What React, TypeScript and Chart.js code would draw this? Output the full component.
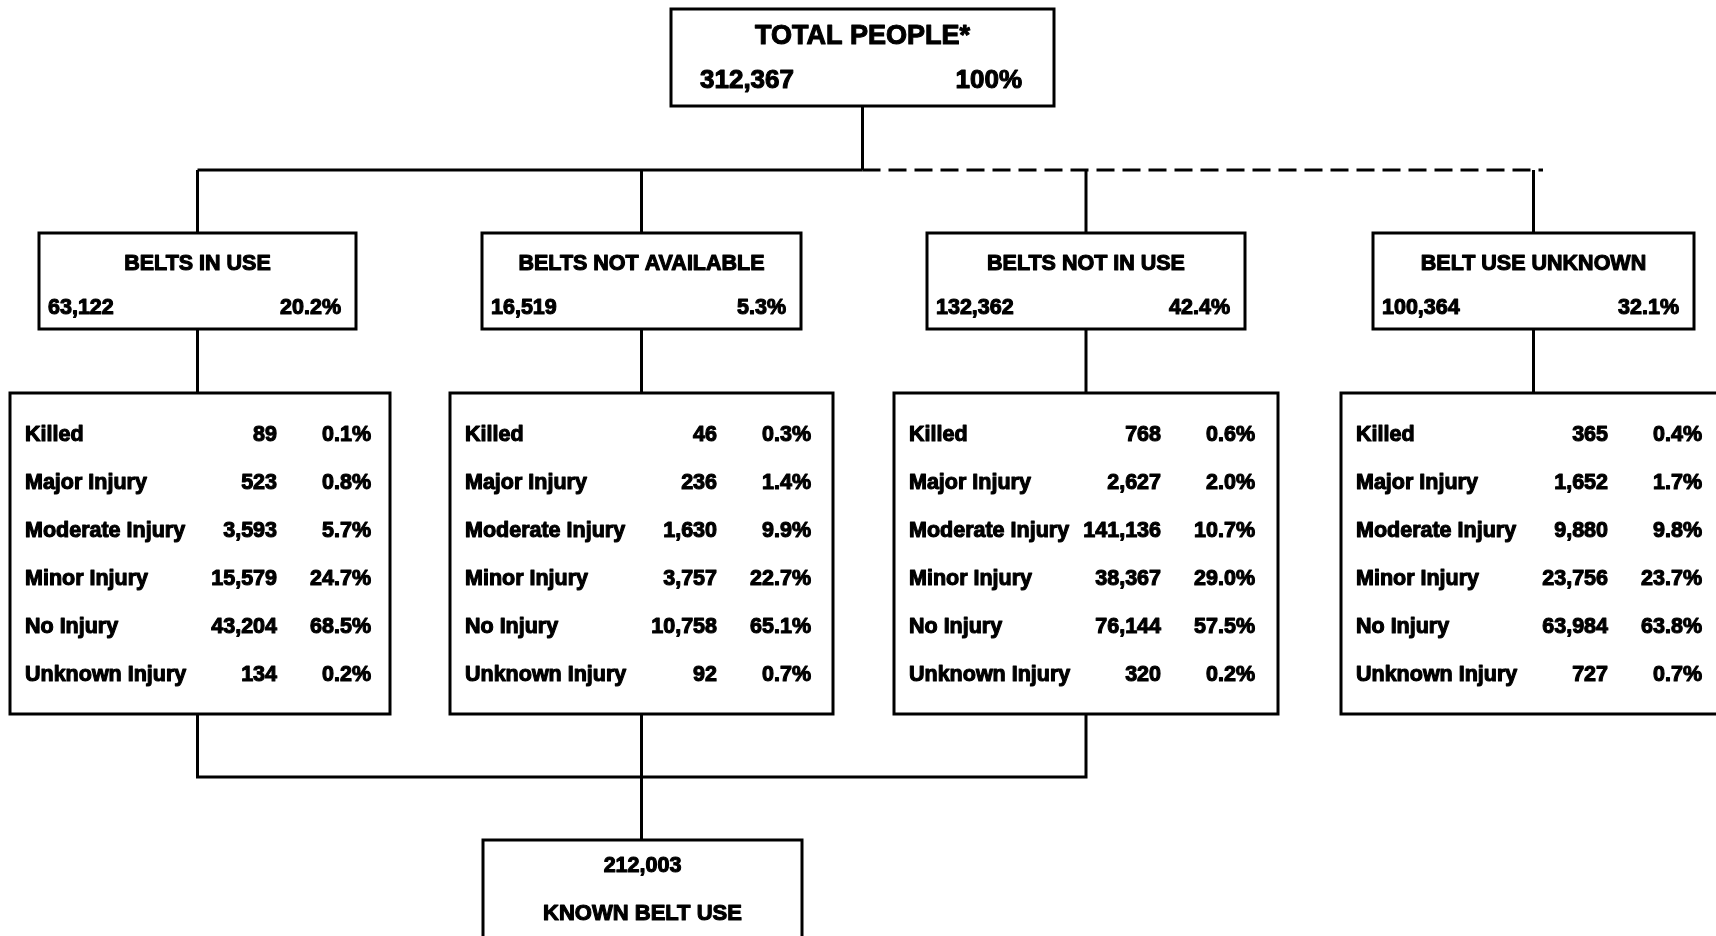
import React, { useEffect, useRef } from "react";
import { Chart, registerables } from "chart.js";

Chart.register(...registerables);

// ---------- DATA ----------
const totalLabel = "TOTAL PEOPLE*";
const totalPeople = 312367;
const totalPct = "100%";

const groupLabels = ["BELTS IN USE", "BELTS NOT AVAILABLE", "BELTS NOT IN USE", "BELT USE UNKNOWN"];
const groupCounts = [63122, 16519, 132362, 100364];
const groupPcts = [20.2, 5.3, 42.4, 32.1];

const injuryLabels = ["Killed", "Major Injury", "Moderate Injury", "Minor Injury", "No Injury", "Unknown Injury"];
const beltsInUseCounts = [89, 523, 3593, 15579, 43204, 134];
const beltsInUsePcts = [0.1, 0.8, 5.7, 24.7, 68.5, 0.2];
const beltsNotAvailableCounts = [46, 236, 1630, 3757, 10758, 92];
const beltsNotAvailablePcts = [0.3, 1.4, 9.9, 22.7, 65.1, 0.7];
const beltsNotInUseCounts = [768, 2627, 141136, 38367, 76144, 320];
const beltsNotInUsePcts = [0.6, 2.0, 10.7, 29.0, 57.5, 0.2];
const beltUseUnknownCounts = [365, 1652, 9880, 23756, 63984, 727];
const beltUseUnknownPcts = [0.4, 1.7, 9.8, 23.7, 63.8, 0.7];

const knownBeltUse = 212003;
const knownBeltUseLabel = "KNOWN BELT USE";

// ---------- LAYOUT (diagram geometry, in scale units = px) ----------
const W = 1716;
const H = 936;
const LAYOUT = {
  top: { x0: 671, x1: 1054, y0: 9, y1: 106 },
  branchY: 170,
  l2: [
    { x0: 39, x1: 356 },
    { x0: 482, x1: 801 },
    { x0: 927, x1: 1245 },
    { x0: 1373, x1: 1694 },
  ],
  l2y0: 233,
  l2y1: 329,
  l3: [
    { x0: 10, x1: 390 },
    { x0: 450, x1: 833 },
    { x0: 894, x1: 1278 },
    { x0: 1341, x1: 1745 },
  ],
  l3y0: 393,
  l3y1: 714,
  bottomJoinY: 777,
  bottom: { x0: 483, x1: 802, y0: 840, y1: 990 },
  dashEndX: 1543,
};

const FONT = "'Liberation Sans', Arial, sans-serif";
const fmt = (n: number) => n.toLocaleString("en-US");
const pct = (p: number) => p.toFixed(1) + "%";

const tableCounts = [beltsInUseCounts, beltsNotAvailableCounts, beltsNotInUseCounts, beltUseUnknownCounts];
const tablePcts = [beltsInUsePcts, beltsNotAvailablePcts, beltsNotInUsePcts, beltUseUnknownPcts];

const cx = (b: { x0: number; x1: number }) => (b.x0 + b.x1) / 2;

function seg(points: { x: number; y: number }[], dash: number[] = []) {
  return {
    data: points,
    showLine: true,
    borderColor: "#000",
    borderWidth: 3,
    borderDash: dash,
    pointRadius: 0,
    fill: false,
    tension: 0,
  };
}

export default function App() {
  const ref = useRef<HTMLCanvasElement | null>(null);

  useEffect(() => {
    if (!ref.current) return;
    const L = LAYOUT;
    const topCx = cx(L.top);
    const datasets: any[] = [];
    datasets.push(seg([{ x: topCx, y: L.top.y1 }, { x: topCx, y: L.branchY }]));
    datasets.push(seg([{ x: cx(L.l2[0]), y: L.branchY }, { x: topCx, y: L.branchY }]));
    datasets.push(seg([{ x: topCx, y: L.branchY }, { x: L.dashEndX, y: L.branchY }], [18, 8]));
    L.l2.forEach((b) => {
      datasets.push(seg([{ x: cx(b), y: L.branchY }, { x: cx(b), y: L.l2y0 }]));
      datasets.push(seg([{ x: cx(b), y: L.l2y1 }, { x: cx(b), y: L.l3y0 }]));
    });
    const bx = [cx(L.l2[0]), cx(L.l2[1]), cx(L.l2[2])];
    datasets.push(
      seg([
        { x: bx[0], y: L.l3y1 },
        { x: bx[0], y: L.bottomJoinY },
        { x: bx[2], y: L.bottomJoinY },
        { x: bx[2], y: L.l3y1 },
      ])
    );
    datasets.push(seg([{ x: bx[1], y: L.l3y1 }, { x: bx[1], y: L.bottom.y0 }]));

    const diagramPlugin = {
      id: "diagram",
      afterDatasetsDraw(chart: any) {
        const { ctx, scales } = chart;
        const X = (v: number) => scales.x.getPixelForValue(v);
        const Y = (v: number) => scales.y.getPixelForValue(v);
        const box = (x0: number, y0: number, x1: number, y1: number) => {
          ctx.save();
          ctx.fillStyle = "#fff";
          ctx.strokeStyle = "#000";
          ctx.lineWidth = 3;
          ctx.fillRect(X(x0), Y(y0), X(x1) - X(x0), Y(y1) - Y(y0));
          ctx.strokeRect(X(x0), Y(y0), X(x1) - X(x0), Y(y1) - Y(y0));
          ctx.restore();
        };
        const text = (s: string, x: number, y: number, align: string, size: number) => {
          ctx.save();
          ctx.fillStyle = "#000";
          ctx.strokeStyle = "#000";
          ctx.lineWidth = 1.1;
          ctx.lineJoin = "round";
          ctx.font = `bold ${size}px ${FONT}`;
          ctx.textAlign = align;
          ctx.textBaseline = "middle";
          ctx.fillText(s, X(x), Y(y));
          ctx.strokeText(s, X(x), Y(y));
          ctx.restore();
        };

        // top box
        box(L.top.x0, L.top.y0, L.top.x1, L.top.y1);
        text(totalLabel, topCx, 37, "center", 27);
        text(fmt(totalPeople), L.top.x0 + 29, 81, "left", 26);
        text(totalPct, L.top.x1 - 32, 81, "right", 26);

        // level 2
        L.l2.forEach((b, i) => {
          box(b.x0, L.l2y0, b.x1, L.l2y1);
          text(groupLabels[i], cx(b), 264, "center", 21.5);
          text(fmt(groupCounts[i]), b.x0 + 9, 308, "left", 21.5);
          text(pct(groupPcts[i]), b.x1 - 15, 308, "right", 21.5);
        });

        // level 3
        L.l3.forEach((b, i) => {
          box(b.x0, L.l3y0, b.x1, L.l3y1);
          injuryLabels.forEach((lab, r) => {
            const y = 435 + r * 48;
            text(lab, b.x0 + 15, y, "left", 21.5);
            text(fmt(tableCounts[i][r]), b.x0 + 267, y, "right", 21.5);
            text(pct(tablePcts[i][r]), b.x0 + 361, y, "right", 21.5);
          });
        });

        // bottom box
        box(L.bottom.x0, L.bottom.y0, L.bottom.x1, L.bottom.y1);
        text(fmt(knownBeltUse), cx(L.bottom), 866, "center", 21.5);
        text(knownBeltUseLabel, cx(L.bottom), 914, "center", 22);
      },
    };

    const chart = new Chart(ref.current, {
      type: "scatter",
      data: { datasets },
      options: {
        animation: false,
        responsive: false,
        events: [],
        layout: { padding: 0 },
        plugins: { legend: { display: false }, tooltip: { enabled: false } },
        scales: {
          x: { type: "linear", min: 0, max: W, display: false },
          y: { type: "linear", min: 0, max: H, reverse: true, display: false },
        },
      },
      plugins: [diagramPlugin],
    });
    return () => chart.destroy();
  }, []);

  return (
    <div style={{ position: "fixed", left: 0, top: 0, width: W, height: H, background: "#fff", overflow: "hidden" }}>
      <canvas ref={ref} width={W} height={H} style={{ width: W, height: H, display: "block" }} />
    </div>
  );
}
